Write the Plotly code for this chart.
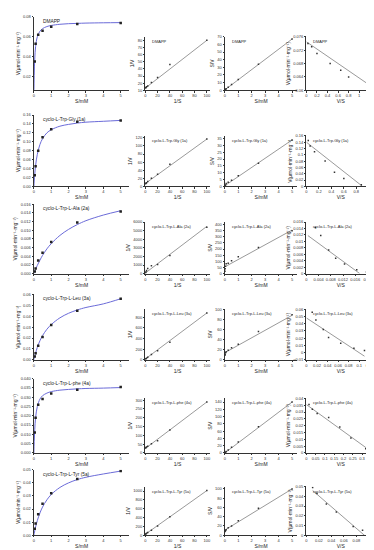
import plotly.graph_objects as go

# ---------------- DATA ----------------
names = ["DMAPP", "cyclo-L-Trp-Gly (1a)", "cyclo-L-Trp-L-Ala (2a)",
         "cyclo-L-Trp-L-Leu (3a)", "cyclo-L-Trp-L-phe (4a)", "cyclo-L-Trp-L-Tyr (5a)"]

S_pts = [0.05, 0.1, 0.25, 0.5, 1, 2.5, 5]
V_dmapp = [0.035, 0.053, 0.062, 0.066, 0.070, 0.073, 0.074]
V_1a = [0.025, 0.045, 0.080, 0.110, 0.128, 0.145, 0.148]
V_2a = [0.0005, 0.0012, 0.003, 0.0048, 0.0073, 0.0118, 0.0143]
V_3a = [0.003, 0.006, 0.013, 0.021, 0.032, 0.045, 0.056]
V_4a = [0.011, 0.019, 0.026, 0.029, 0.032, 0.034, 0.0355]
V_5a = [0.005, 0.009, 0.016, 0.024, 0.032, 0.043, 0.049]
V_points = [V_dmapp, V_1a, V_2a, V_3a, V_4a, V_5a]

S_fit = [0, 0.02, 0.05, 0.1, 0.2, 0.35, 0.5, 0.75, 1, 1.5, 2, 2.5, 3, 4, 5]
Vfit_dmapp = [0, 0.021, 0.0375, 0.050, 0.060, 0.0656, 0.0682, 0.0703, 0.0714, 0.0726, 0.0732, 0.0735, 0.0738, 0.0741, 0.0743]
Vfit_1a = [0, 0.012, 0.027, 0.047, 0.072, 0.094, 0.107, 0.120, 0.127, 0.135, 0.139, 0.142, 0.144, 0.146, 0.148]
Vfit_2a = [0, 0.0002, 0.0005, 0.001, 0.0019, 0.0031, 0.0042, 0.0057, 0.0069, 0.0088, 0.0102, 0.0113, 0.0122, 0.0135, 0.0145]
Vfit_3a = [0, 0.0013, 0.0032, 0.0062, 0.0114, 0.0175, 0.0222, 0.0280, 0.0323, 0.0385, 0.0427, 0.0457, 0.0480, 0.0513, 0.0560]
Vfit_4a = [0, 0.0062, 0.0125, 0.0190, 0.0250, 0.0290, 0.0308, 0.0322, 0.0330, 0.0338, 0.0342, 0.0345, 0.0347, 0.0349, 0.0352]
Vfit_5a = [0, 0.0013, 0.0033, 0.0063, 0.0112, 0.0170, 0.0215, 0.0270, 0.0311, 0.0365, 0.0400, 0.0425, 0.0443, 0.0468, 0.0490]
V_fits = [Vfit_dmapp, Vfit_1a, Vfit_2a, Vfit_3a, Vfit_4a, Vfit_5a]

# Lineweaver-Burk (1/S, 1/V)
lb_x = [100, 40, 20, 10, 4, 2, 1, 0.4, 0.2]
lb_y = [[80, 46, 28, 21, 16, 15, 14, 13.6, 13.5],
        [117, 55, 30, 20, 12, 9, 8, 7, 6.8],
        [5400, 2100, 1050, 900, 600, 360, 220, 140, 100],
        [880, 330, 170, 100, 48, 31, 22, 18, 18],
        [290, 130, 70, 52, 38, 34, 31, 29, 28],
        [1010, 420, 210, 110, 62, 42, 31, 23, 20]]
lb_line_x = [0, 100]
lb_line_y = [[13, 80], [7, 117], [60, 5500], [15, 880], [25, 290], [20, 1010]]

# Hanes-Woolf (S, S/V)
hw_x = [0.01, 0.025, 0.05, 0.1, 0.25, 0.5, 1, 2.5, 5]
hw_y = [[0.6, 0.7, 1.4, 2, 3.8, 7.5, 14, 34, 67],
        [0.5, 0.6, 1, 2.2, 3.1, 4.5, 7.8, 17, 34],
        [20, 40, 60, 80, 85, 105, 137, 212, 350],
        [9, 11, 14, 16, 19, 24, 31, 56, 89],
        [0.5, 1, 2, 4, 8, 16, 30, 72, 140],
        [8, 9, 10, 12, 16, 20, 31, 58, 100]]
hw_line_x = [0, 5]
hw_line_y = [[0.5, 67], [0.5, 34], [55, 355], [14, 88], [0, 140], [11, 100]]

# Eadie-Hofstee (V/S, V)
eh_x = [[1.2, 0.8, 0.65, 0.45, 0.2, 0.1, 0.03],
        [0.88, 0.6, 0.45, 0.3, 0.13, 0.06, 0.03],
        [0.0197, 0.0165, 0.0125, 0.0096, 0.0073, 0.0047, 0.0029],
        [0.11, 0.09, 0.065, 0.042, 0.032, 0.018, 0.011],
        [0.32, 0.24, 0.18, 0.12, 0.058, 0.032, 0.014],
        [0.1, 0.09, 0.075, 0.048, 0.032, 0.017, 0.01]]
eh_y = [[0.061, 0.064, 0.066, 0.068, 0.071, 0.073, 0.074],
        [0.005, 0.025, 0.045, 0.08, 0.11, 0.128, 0.145],
        [0.0005, 0.0012, 0.003, 0.0048, 0.0073, 0.0118, 0.0143],
        [0.003, 0.006, 0.013, 0.021, 0.032, 0.045, 0.056],
        [0.003, 0.011, 0.019, 0.026, 0.029, 0.032, 0.0355],
        [0.001, 0.005, 0.009, 0.024, 0.032, 0.043, 0.049]]
eh_line_x = [[0, 1.2], [0, 0.9], [0.0005, 0.0175], [0, 0.11], [0, 0.33], [0.01, 0.1]]
eh_line_y = [[0.0745, 0.0615], [0.14, 0.0], [0.0118, 0.0], [0.048, -0.005], [0.0355, 0.003], [0.046, -0.004]]

# axis ranges / ticks per row
c1_yr = [[0.006, 0.08], [0, 0.16], [0, 0.016], [0, 0.06], [0, 0.04], [0, 0.05]]
c1_dt = [0.02, 0.02, 0.002, 0.01, 0.005, 0.01]
c1_fmt = [".2f", ".2f", ".3f", ".2f", ".3f", ".2f"]
c2_yr = [[10, 85], [0, 125], [0, 6000], [0, 950], [0, 310], [0, 1100]]
c2_dt = [10, 20, 1000, 200, 50, 200]
c3_yr = [[0, 70], [0, 37], [0, 420], [0, 100], [0, 150], [0, 105]]
c3_dt = [10, 5, 50, 20, 20, 20]
c4_xr = [[0, 1.3], [0, 1.1], [0, 0.0225], [0, 0.13], [0, 0.37], [0, 0.11]]
c4_dx = [0.2, 0.2, 0.004, 0.02, 0.05, 0.02]
c4_yr = [[0.06, 0.076], [0, 0.16], [0, 0.016], [-0.01, 0.06], [0, 0.04], [0, 0.05]]
c4_dy = [0.004, 0.02, 0.002, 0.01, 0.005, 0.01]

# ---------------- LAYOUT ----------------
W, H = 374, 550
big_top = [6, 105, 195, 286, 371, 463]
big_bot = [80, 177, 265, 352, 446, 529]
small_top = [26, 126, 213, 301, 391, 480]
cols_x = [(25, 121), (137, 202), (217, 290), (299, 368)]

fig = go.Figure()
BLUE = "#6b6bd8"
axfont = dict(family="Liberation Sans", size=4, color="#333")
ttlfont = dict(family="Liberation Sans", size=5, color="#222")
VTITLE = "V(μmol·min⁻¹·mg⁻¹)"

def ax_common():
    return dict(showline=True, linecolor="#333", linewidth=0.6, ticks="outside",
                ticklen=1.5, tickwidth=0.5, tickcolor="#333", showgrid=False,
                zeroline=False, tickfont=axfont, mirror=False, tickangle=0)

n = 0
annos = []
for r in range(6):
    for c in range(4):
        n += 1
        xa = "x" if n == 1 else f"x{n}"
        ya = "y" if n == 1 else f"y{n}"
        x0, x1 = cols_x[c]
        top = big_top[r] if c == 0 else small_top[r]
        bot = big_bot[r]
        xd = [x0 / W, x1 / W]
        yd = [1 - bot / H, 1 - top / H]
        xax = ax_common()
        yax = ax_common()
        xax.update(domain=xd, anchor=ya)
        yax.update(domain=yd, anchor=xa)
        if c == 0:
            fig.add_trace(go.Scatter(x=S_fit, y=V_fits[r], mode="lines", line=dict(color=BLUE, width=1, shape="spline"),
                                     xaxis=xa, yaxis=ya, showlegend=False))
            fig.add_trace(go.Scatter(x=S_pts, y=V_points[r], mode="markers", marker=dict(symbol="square", size=2.5, color="#222"),
                                     xaxis=xa, yaxis=ya, showlegend=False))
            xax.update(range=[0, 5.5], dtick=1, title=dict(text="S/mM", font=ttlfont, standoff=1))
            yax.update(range=c1_yr[r], dtick=c1_dt[r], tickformat=c1_fmt[r], tick0=0,
                       title=dict(text=VTITLE, font=ttlfont, standoff=2))
        elif c == 1:
            fig.add_trace(go.Scatter(x=lb_line_x, y=lb_line_y[r], mode="lines", line=dict(color="#555", width=0.6),
                                     xaxis=xa, yaxis=ya, showlegend=False))
            fig.add_trace(go.Scatter(x=lb_x, y=lb_y[r], mode="markers", marker=dict(symbol="square", size=1.5, color="#333"),
                                     xaxis=xa, yaxis=ya, showlegend=False))
            xax.update(range=[0, 105], dtick=20, title=dict(text="1/S", font=ttlfont, standoff=1))
            yax.update(range=c2_yr[r], dtick=c2_dt[r], title=dict(text="1/V", font=ttlfont, standoff=2))
        elif c == 2:
            fig.add_trace(go.Scatter(x=hw_line_x, y=hw_line_y[r], mode="lines", line=dict(color="#555", width=0.6),
                                     xaxis=xa, yaxis=ya, showlegend=False))
            fig.add_trace(go.Scatter(x=hw_x, y=hw_y[r], mode="markers", marker=dict(symbol="square", size=1.5, color="#333"),
                                     xaxis=xa, yaxis=ya, showlegend=False))
            xax.update(range=[0, 5.4], dtick=1, title=dict(text="S/mM", font=ttlfont, standoff=1))
            yax.update(range=c3_yr[r], dtick=c3_dt[r], title=dict(text="S/V", font=ttlfont, standoff=2))
        else:
            fig.add_trace(go.Scatter(x=eh_line_x[r], y=eh_line_y[r], mode="lines", line=dict(color="#555", width=0.6),
                                     xaxis=xa, yaxis=ya, showlegend=False))
            fig.add_trace(go.Scatter(x=eh_x[r], y=eh_y[r], mode="markers", marker=dict(symbol="square", size=1.5, color="#333"),
                                     xaxis=xa, yaxis=ya, showlegend=False))
            xax.update(range=c4_xr[r], dtick=c4_dx[r], title=dict(text="V/S", font=ttlfont, standoff=1))
            yax.update(range=c4_yr[r], dtick=c4_dy[r],
                       title=dict(text=VTITLE, font=ttlfont, standoff=2))
        fig.layout["xaxis" if n == 1 else f"xaxis{n}"] = xax
        fig.layout["yaxis" if n == 1 else f"yaxis{n}"] = yax
        annos.append(dict(text=names[r], xref=f"{xa} domain", yref=f"{ya} domain", x=0.07, y=1.0,
                          xanchor="left", yanchor="top", showarrow=False,
                          font=dict(family="Liberation Sans", size=4 if c else 4.8, color="#222")))

fig.update_layout(width=W, height=H, margin=dict(l=0, r=0, t=0, b=0),
                  paper_bgcolor="white", plot_bgcolor="white", annotations=annos,
                  showlegend=False)
fig.write_html("out.html")
